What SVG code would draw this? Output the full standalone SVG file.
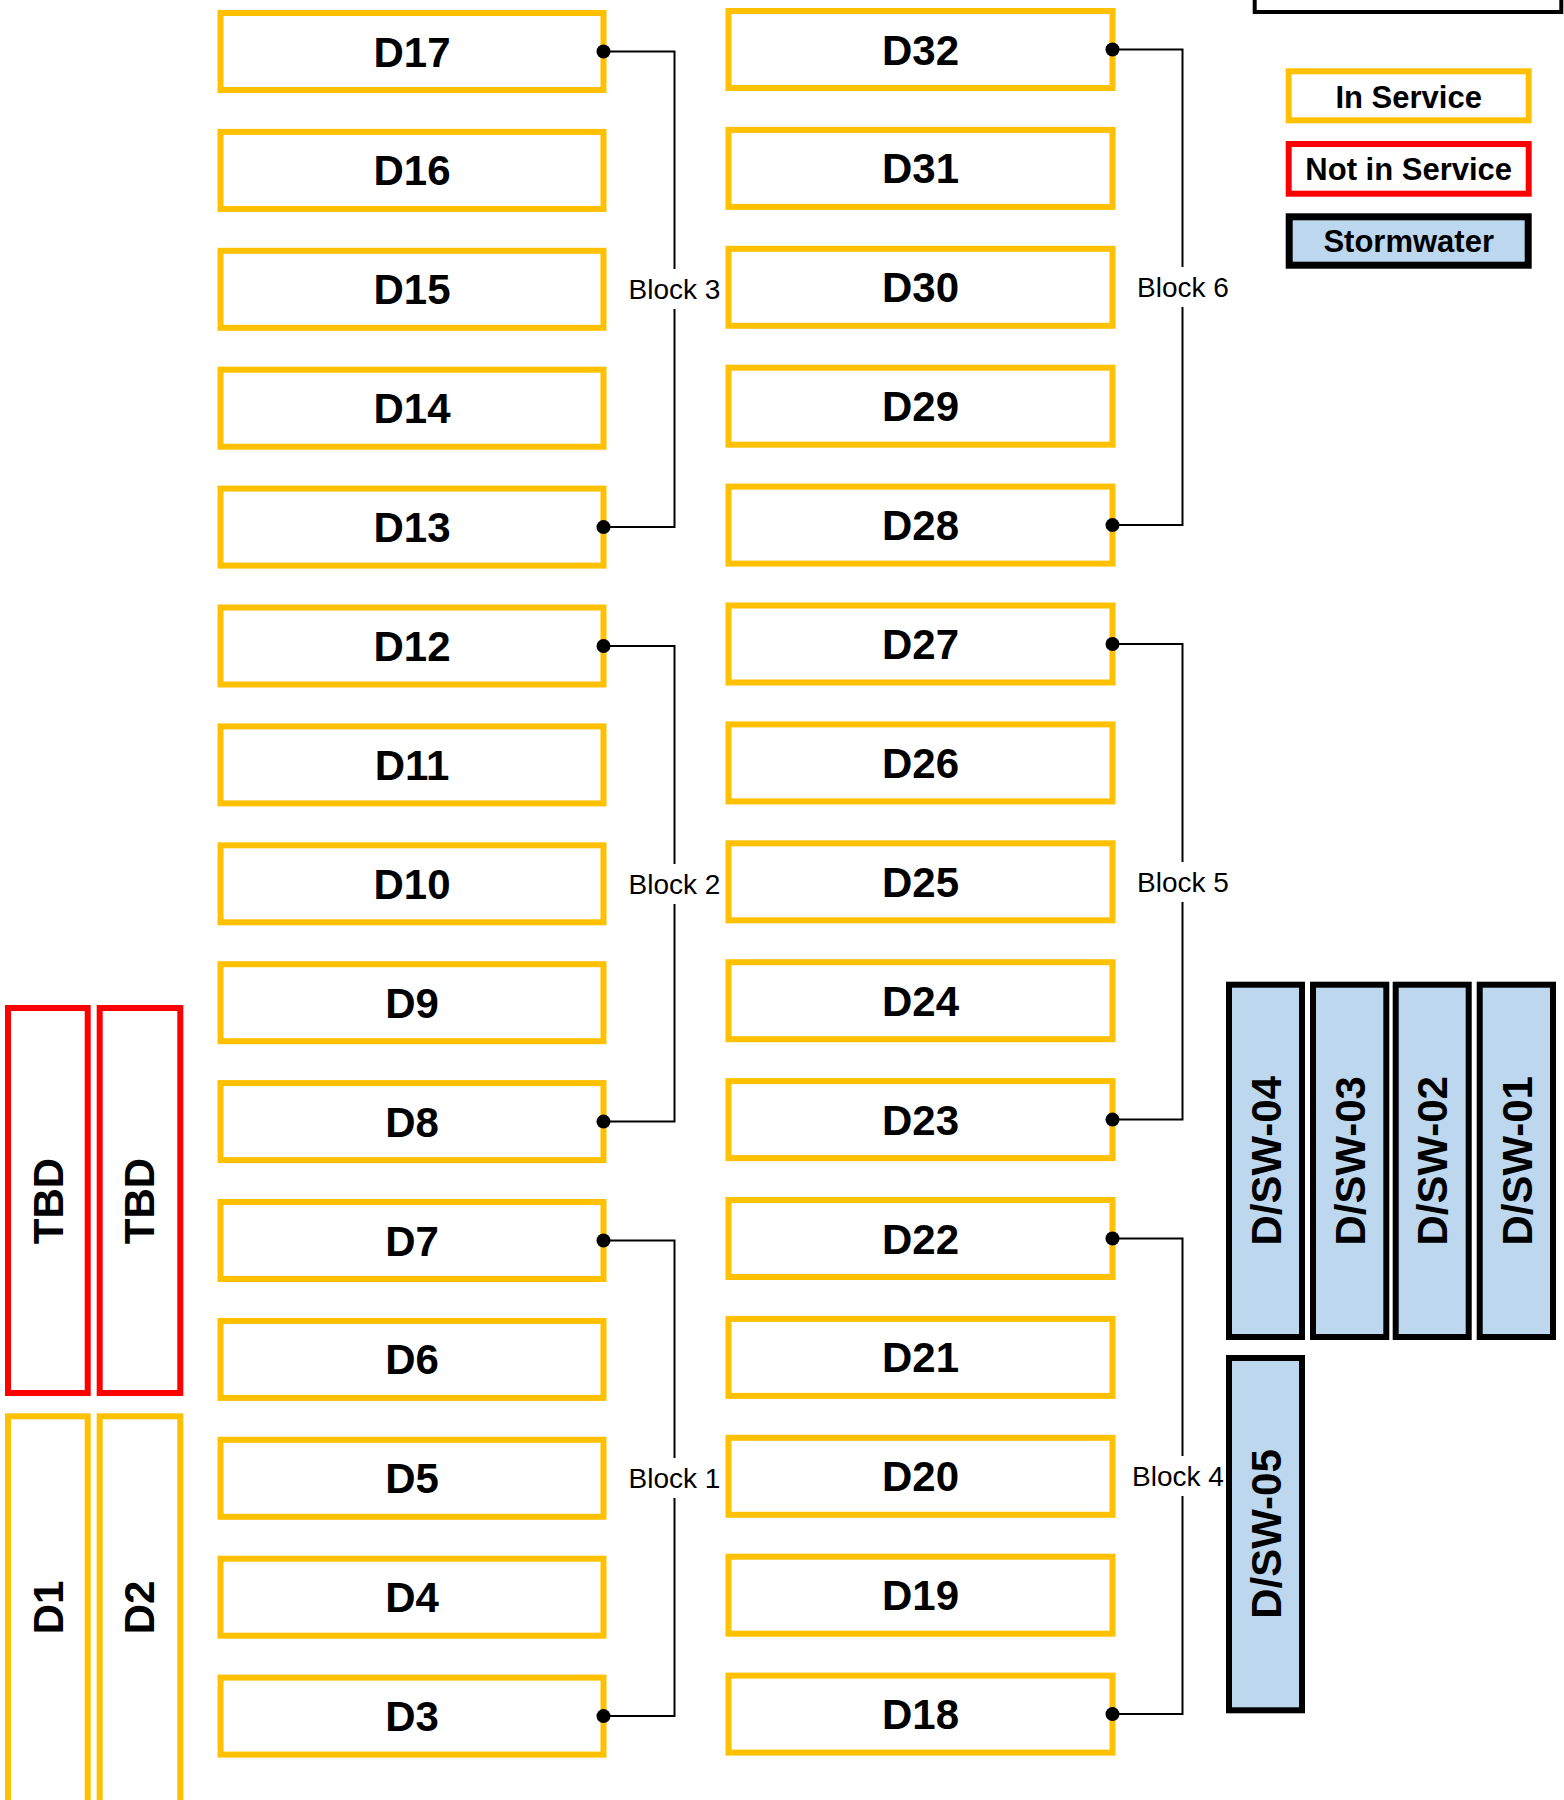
<svg xmlns="http://www.w3.org/2000/svg" width="1564" height="1800" viewBox="0 0 1564 1800">
<defs>
<style>
.ins{fill:#fff;stroke:#FFC000;stroke-width:6}
.nis{fill:#fff;stroke:#FF0000;stroke-width:6}
.sw{fill:#BDD7EE;stroke:#000;stroke-width:6}
.hdr{fill:#fff;stroke:#000;stroke-width:4}
.t{font-family:'Liberation Sans',Arial,sans-serif;font-weight:bold;font-size:42px;text-anchor:middle;fill:#000}
.lg{font-family:'Liberation Sans',Arial,sans-serif;font-weight:bold;font-size:31px;text-anchor:middle;fill:#000}
.blk{font-family:'Liberation Sans',Arial,sans-serif;font-size:28px;text-anchor:middle;fill:#000}
.conn{fill:none;stroke:#000;stroke-width:2;marker-start:url(#dot);marker-end:url(#dot)}
</style>
<marker id="dot" markerWidth="16" markerHeight="16" refX="8" refY="8" markerUnits="userSpaceOnUse" overflow="visible"><circle cx="8" cy="8" r="7" fill="#000"/></marker>
</defs>
<rect width="1564" height="1800" fill="#fff"/>

<g id="header-box"><rect class="hdr" x="1254.7" y="-20" width="306.6" height="32"/></g>

<g id="legend">
<g id="legend-in-service"><rect class="ins" x="1288.7" y="71.3" width="240" height="49"/><text class="lg" x="1408.7" y="107.5">In Service</text></g>
<g id="legend-not-in-service"><rect class="nis" x="1288.7" y="144" width="240" height="49.7"/><text class="lg" x="1408.7" y="179.5">Not in Service</text></g>
<g id="legend-stormwater"><rect class="sw" style="stroke-width:7" x="1289.2" y="216.8" width="239" height="48.4"/><text class="lg" x="1408.7" y="251.5">Stormwater</text></g>
</g>

<g id="D17"><rect class="ins" x="220.5" y="13" width="383" height="77"/><text class="t" x="412" y="66.5">D17</text></g>
<g id="D16"><rect class="ins" x="220.5" y="131.9" width="383" height="77"/><text class="t" x="412" y="185.4">D16</text></g>
<g id="D15"><rect class="ins" x="220.5" y="250.8" width="383" height="77"/><text class="t" x="412" y="304.3">D15</text></g>
<g id="D14"><rect class="ins" x="220.5" y="369.7" width="383" height="77"/><text class="t" x="412" y="423.2">D14</text></g>
<g id="D13"><rect class="ins" x="220.5" y="488.6" width="383" height="77"/><text class="t" x="412" y="542.1">D13</text></g>
<g id="D12"><rect class="ins" x="220.5" y="607.5" width="383" height="77"/><text class="t" x="412" y="661">D12</text></g>
<g id="D11"><rect class="ins" x="220.5" y="726.4" width="383" height="77"/><text class="t" x="412" y="779.9">D11</text></g>
<g id="D10"><rect class="ins" x="220.5" y="845.3" width="383" height="77"/><text class="t" x="412" y="898.8">D10</text></g>
<g id="D9"><rect class="ins" x="220.5" y="964.2" width="383" height="77"/><text class="t" x="412" y="1017.7">D9</text></g>
<g id="D8"><rect class="ins" x="220.5" y="1083.1" width="383" height="77"/><text class="t" x="412" y="1136.6">D8</text></g>
<g id="D7"><rect class="ins" x="220.5" y="1202" width="383" height="77"/><text class="t" x="412" y="1255.5">D7</text></g>
<g id="D6"><rect class="ins" x="220.5" y="1320.9" width="383" height="77"/><text class="t" x="412" y="1374.4">D6</text></g>
<g id="D5"><rect class="ins" x="220.5" y="1439.8" width="383" height="77"/><text class="t" x="412" y="1493.3">D5</text></g>
<g id="D4"><rect class="ins" x="220.5" y="1558.7" width="383" height="77"/><text class="t" x="412" y="1612.2">D4</text></g>
<g id="D3"><rect class="ins" x="220.5" y="1677.6" width="383" height="77"/><text class="t" x="412" y="1731.1">D3</text></g>

<g id="D32"><rect class="ins" x="728.5" y="11" width="384" height="77"/><text class="t" x="920.5" y="64.5">D32</text></g>
<g id="D31"><rect class="ins" x="728.5" y="129.9" width="384" height="77"/><text class="t" x="920.5" y="183.4">D31</text></g>
<g id="D30"><rect class="ins" x="728.5" y="248.8" width="384" height="77"/><text class="t" x="920.5" y="302.3">D30</text></g>
<g id="D29"><rect class="ins" x="728.5" y="367.7" width="384" height="77"/><text class="t" x="920.5" y="421.2">D29</text></g>
<g id="D28"><rect class="ins" x="728.5" y="486.6" width="384" height="77"/><text class="t" x="920.5" y="540.1">D28</text></g>
<g id="D27"><rect class="ins" x="728.5" y="605.5" width="384" height="77"/><text class="t" x="920.5" y="659">D27</text></g>
<g id="D26"><rect class="ins" x="728.5" y="724.4" width="384" height="77"/><text class="t" x="920.5" y="777.9">D26</text></g>
<g id="D25"><rect class="ins" x="728.5" y="843.3" width="384" height="77"/><text class="t" x="920.5" y="896.8">D25</text></g>
<g id="D24"><rect class="ins" x="728.5" y="962.2" width="384" height="77"/><text class="t" x="920.5" y="1015.7">D24</text></g>
<g id="D23"><rect class="ins" x="728.5" y="1081.1" width="384" height="77"/><text class="t" x="920.5" y="1134.6">D23</text></g>
<g id="D22"><rect class="ins" x="728.5" y="1200" width="384" height="77"/><text class="t" x="920.5" y="1253.5">D22</text></g>
<g id="D21"><rect class="ins" x="728.5" y="1318.9" width="384" height="77"/><text class="t" x="920.5" y="1372.4">D21</text></g>
<g id="D20"><rect class="ins" x="728.5" y="1437.8" width="384" height="77"/><text class="t" x="920.5" y="1491.3">D20</text></g>
<g id="D19"><rect class="ins" x="728.5" y="1556.7" width="384" height="77"/><text class="t" x="920.5" y="1610.2">D19</text></g>
<g id="D18"><rect class="ins" x="728.5" y="1675.6" width="384" height="77"/><text class="t" x="920.5" y="1729.1">D18</text></g>

<g id="TBD-1"><rect class="nis" x="8" y="1008" width="79.7" height="385"/><text class="t" transform="translate(62.7,1201) rotate(-90)">TBD</text></g>
<g id="TBD-2"><rect class="nis" x="99.7" y="1008" width="80.6" height="385"/><text class="t" transform="translate(154.3,1201) rotate(-90)">TBD</text></g>
<g id="D1"><rect class="ins" x="8" y="1416.3" width="79.7" height="420"/><text class="t" transform="translate(62.7,1607.5) rotate(-90)">D1</text></g>
<g id="D2"><rect class="ins" x="99.7" y="1416.3" width="80.6" height="420"/><text class="t" transform="translate(154.3,1607.5) rotate(-90)">D2</text></g>

<g id="D-SW-04"><rect class="sw" x="1229" y="984.7" width="73" height="352.3"/><text class="t" transform="translate(1280.5,1160.8) rotate(-90)">D/SW-04</text></g>
<g id="D-SW-03"><rect class="sw" x="1313" y="984.7" width="73.3" height="352.3"/><text class="t" transform="translate(1364.5,1160.8) rotate(-90)">D/SW-03</text></g>
<g id="D-SW-02"><rect class="sw" x="1395.7" y="984.7" width="73" height="352.3"/><text class="t" transform="translate(1447,1160.8) rotate(-90)">D/SW-02</text></g>
<g id="D-SW-01"><rect class="sw" x="1479.7" y="984.7" width="73.3" height="352.3"/><text class="t" transform="translate(1531.5,1160.8) rotate(-90)">D/SW-01</text></g>
<g id="D-SW-05"><rect class="sw" x="1229" y="1358" width="73" height="352.3"/><text class="t" transform="translate(1280.5,1534) rotate(-90)">D/SW-05</text></g>

<g id="connectors">
<path class="conn" d="M603.5,51.5 H674.5 V269 M674.5,309 V527.1 H603.5"/>
<path class="conn" d="M603.5,646 H674.5 V864 M674.5,904 V1121.6 H603.5"/>
<path class="conn" d="M603.5,1240.5 H674.5 V1458 M674.5,1498 V1716.1 H603.5"/>
<path class="conn" d="M1112.5,49.5 H1182.5 V267 M1182.5,307 V525.1 H1112.5"/>
<path class="conn" d="M1112.5,644 H1182.5 V862 M1182.5,902 V1119.6 H1112.5"/>
<path class="conn" d="M1112.5,1238.5 H1182.5 V1456 M1182.5,1496 V1714.1 H1112.5"/>
<text class="blk" x="674.5" y="299.3">Block 3</text>
<text class="blk" x="674.5" y="893.8">Block 2</text>
<text class="blk" x="674.5" y="1488.3">Block 1</text>
<text class="blk" x="1183" y="297.3">Block 6</text>
<text class="blk" x="1183" y="891.8">Block 5</text>
<text class="blk" x="1178" y="1486.3">Block 4</text>
</g>
</svg>
